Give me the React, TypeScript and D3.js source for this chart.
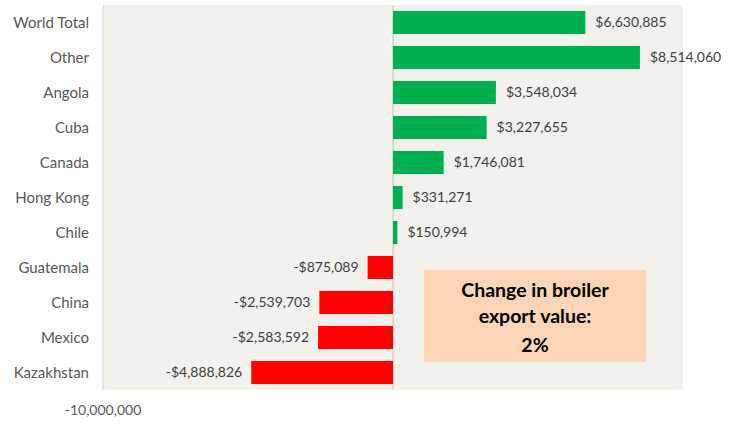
import React from "react";
import * as d3 from "d3";

// countries, top to bottom
const countries = [
  "World Total",
  "Other",
  "Angola",
  "Cuba",
  "Canada",
  "Hong Kong",
  "Chile",
  "Guatemala",
  "China",
  "Mexico",
  "Kazakhstan",
];

// change in export value (USD)
const changes = [
  6630885, 8514060, 3548034, 3227655, 1746081, 331271, 150994, -875089,
  -2539703, -2583592, -4888826,
];

const axisTicks = [-10000000];
const noteLines = ["Change in broiler", "export value:", "2%"];

const width = 730;
const height = 424;
const margin = { top: 5, right: 47, bottom: 34, left: 103 };
const font = "Lato, 'Open Sans', sans-serif";

export default function App() {
  const data = countries.map((name, i) => ({ name, value: changes[i] }));

  const x = d3
    .scaleLinear()
    .domain([-10000000, 10000000])
    .range([margin.left, width - margin.right]);

  const y = d3
    .scaleBand()
    .domain(countries)
    .range([margin.top, height - margin.bottom])
    .paddingInner(0.34)
    .paddingOuter(0.17);

  const money = (v: number) =>
    (v < 0 ? "-$" : "$") + d3.format(",")(Math.abs(v));

  const plotBottom = height - margin.bottom;

  return (
    <svg
      width={width}
      height={height}
      style={{ position: "absolute", left: 0, top: 0, background: "#fff" }}
    >
      {/* plot area */}
      <rect
        x={margin.left}
        y={margin.top}
        width={width - margin.right - margin.left}
        height={plotBottom - margin.top}
        fill="#f2f1ec"
      />
      <line
        x1={margin.left}
        x2={margin.left}
        y1={margin.top}
        y2={plotBottom}
        stroke="#d9d9d9"
      />
      <line
        x1={x(0)}
        x2={x(0)}
        y1={margin.top}
        y2={plotBottom}
        stroke="#d0d0d0"
        strokeWidth={1.5}
      />

      {/* bars */}
      {data.map((d) => (
        <rect
          key={d.name}
          x={Math.min(x(0), x(d.value))}
          y={y(d.name)}
          width={Math.abs(x(d.value) - x(0))}
          height={y.bandwidth()}
          fill={d.value >= 0 ? "#00b050" : "#ff0000"}
        />
      ))}

      {/* category labels */}
      {data.map((d) => (
        <text
          key={"c" + d.name}
          x={margin.left - 14}
          y={(y(d.name) as number) + y.bandwidth() / 2}
          dy="0.35em"
          textAnchor="end"
          fontFamily={font}
          fontSize={15}
          fill="#595959"
        >
          {d.name}
        </text>
      ))}

      {/* value labels */}
      {data.map((d) => (
        <text
          key={"v" + d.name}
          x={x(d.value) + (d.value >= 0 ? 10 : -9)}
          y={(y(d.name) as number) + y.bandwidth() / 2}
          dy="0.35em"
          textAnchor={d.value >= 0 ? "start" : "end"}
          fontFamily={font}
          fontSize={14}
          fill="#404040"
        >
          {money(d.value)}
        </text>
      ))}

      {/* x axis tick label */}
      {axisTicks.map((t) => (
        <text
          key={t}
          x={x(t)}
          y={plotBottom + 20}
          dy="0.35em"
          textAnchor="middle"
          fontFamily={font}
          fontSize={14}
          fill="#595959"
        >
          {d3.format(",")(t).replace("−", "-")}
        </text>
      ))}

      {/* annotation */}
      <rect x={424} y={270} width={222} height={92} fill="#fbd5b5" />
      {noteLines.map((line, i) => (
        <text
          key={line}
          x={535}
          y={[290, 316, 345][i]}
          dy="0.35em"
          textAnchor="middle"
          fontFamily={font}
          fontSize={19.5}
          fontWeight="bold"
          fill="#000"
        >
          {line}
        </text>
      ))}
    </svg>
  );
}
